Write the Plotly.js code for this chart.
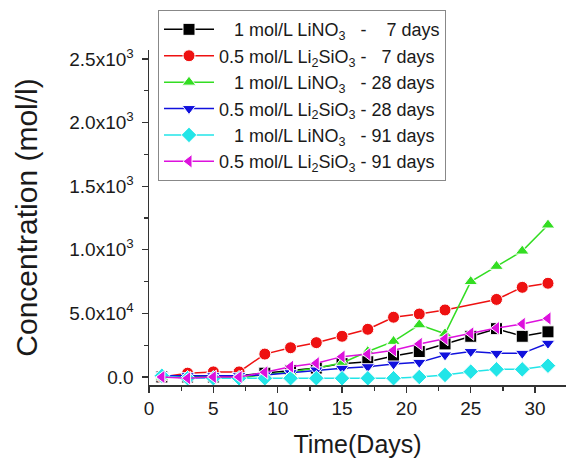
<!DOCTYPE html>
<html>
<head>
<meta charset="utf-8">
<script src="https://cdn.plot.ly/plotly-3.0.1.min.js"></script>
<style>html,body{margin:0;padding:0;background:#fff;}#chart{width:572px;height:461px;}</style>
</head>
<body>
<div id="chart"></div>
<script>
// Days (x values)
const days = [1,3,5,7,9,11,13,15,17,19,21,23,25,27,29,31];
const daysNo25 = [1,3,5,7,9,11,13,15,17,19,21,23,27,29,31];

// Series values (units of 10^3 mol/l as labelled on the axis)
const lino3_7   = [0.00,0.00,0.00,0.01,0.03,0.05,0.07,0.105,0.12,0.165,0.20,0.26,0.32,0.38,0.32,0.355];
const li2sio3_7 = [0.00,0.03,0.04,0.04,0.18,0.23,0.27,0.32,0.375,0.47,0.495,0.527,0.61,0.705,0.737];
const lino3_28  = [0.00,0.00,0.00,-0.01,0.02,0.04,0.07,0.11,0.20,0.28,0.41,0.34,0.75,0.87,0.99,1.195];
const li2sio3_28= [0.01,0.01,0.01,0.01,0.016,0.034,0.055,0.068,0.081,0.102,0.115,0.173,0.20,0.186,0.186,0.265];
const lino3_91  = [0.01,-0.01,-0.01,-0.01,-0.01,-0.01,-0.01,-0.01,-0.01,-0.01,0.00,0.016,0.042,0.06,0.06,0.089];
const li2sio3_91= [0.00,-0.01,0.00,0.00,0.037,0.081,0.108,0.16,0.18,0.21,0.26,0.30,0.343,0.385,0.417,0.46];

// Tick labels
const yTickVals = [0,0.5,1.0,1.5,2.0,2.5];
const yTickText = ["0.0","5.0x10<sup>4</sup>","1.0x10<sup>3</sup>","1.5x10<sup>3</sup>","2.0x10<sup>3</sup>","2.5x10<sup>3</sup>"];
const xTickVals = [0,5,10,15,20,25,30];

const nb = "\u00a0";
const names = [
  nb+nb+nb+"1 mol/L LiNO<sub>3</sub>"+nb+nb+" -"+nb+nb+nb+nb+"7 days",
  "0.5 mol/L Li<sub>2</sub>SiO<sub>3</sub> -"+nb+nb+nb+"7 days",
  nb+nb+nb+"1 mol/L LiNO<sub>3</sub>"+nb+nb+" -"+nb+"28 days",
  "0.5 mol/L Li<sub>2</sub>SiO<sub>3</sub> -"+nb+"28 days",
  nb+nb+nb+"1 mol/L LiNO<sub>3</sub>"+nb+nb+" -"+nb+"91 days",
  "0.5 mol/L Li<sub>2</sub>SiO<sub>3</sub> -"+nb+"91 days"
];
const colors = ["#000000","#ee1111","#33dd22","#1111dd","#22e5e8","#dd11dd"];
const symbols = ["square","circle","triangle-up","triangle-down","diamond","triangle-left"];
const xs = [days, daysNo25, days, days, days, days];
const ys = [lino3_7, li2sio3_7, lino3_28, li2sio3_28, lino3_91, li2sio3_91];

const traces = ys.map((y,i)=>({
  x: xs[i], y: y, name: names[i], type:"scatter", mode:"lines+markers",
  line:{color:colors[i], width:1.5},
  marker:{symbol:symbols[i], color:colors[i], size:12, line:{color:"#ffffff", width:1}},
  legendgroup:"g"+i
}));

const layout = {
  width:572, height:461,
  margin:{l:149, r:6, t:50, b:76},
  paper_bgcolor:"#ffffff", plot_bgcolor:"#ffffff",
  font:{family:"Liberation Sans, Arial, sans-serif", color:"#1a1a1a"},
  showlegend:true,
  legend:{x:0.0216, y:1.119, xanchor:"left", yanchor:"top",
    bgcolor:"#ffffff", bordercolor:"#888888", borderwidth:1,
    font:{size:18, color:"#1a1a1a"}, tracegroupgap:0, itemwidth:50},
  xaxis:{range:[0,32.4], showline:true, linecolor:"#333333", linewidth:1.5,
    zeroline:false, showgrid:false, ticks:"outside", ticklen:6, tickwidth:1.3, tickcolor:"#333333",
    tickvals:xTickVals, tickfont:{size:19},
    minor:{dtick:2.5, tick0:0, ticks:"outside", ticklen:4, tickcolor:"#333333", showgrid:false},
    title:{text:"Time(Days)", font:{size:25}, standoff:17}},
  yaxis:{range:[-0.063,2.571], showline:true, linecolor:"#333333", linewidth:1.5,
    zeroline:false, showgrid:false, ticks:"outside", ticklen:6, tickwidth:1.3, tickcolor:"#333333",
    tickvals:yTickVals, ticktext:yTickText, tickfont:{size:19}, ticklabelstandoff:4,
    minor:{dtick:0.25, tick0:0, ticks:"outside", ticklen:4, tickcolor:"#333333", showgrid:false},
    title:{text:"Concentration (mol/l)", font:{size:30}, standoff:22}}
};

Plotly.newPlot("chart", traces, layout, {displayModeBar:false, staticPlot:true});
</script>
</body>
</html>
